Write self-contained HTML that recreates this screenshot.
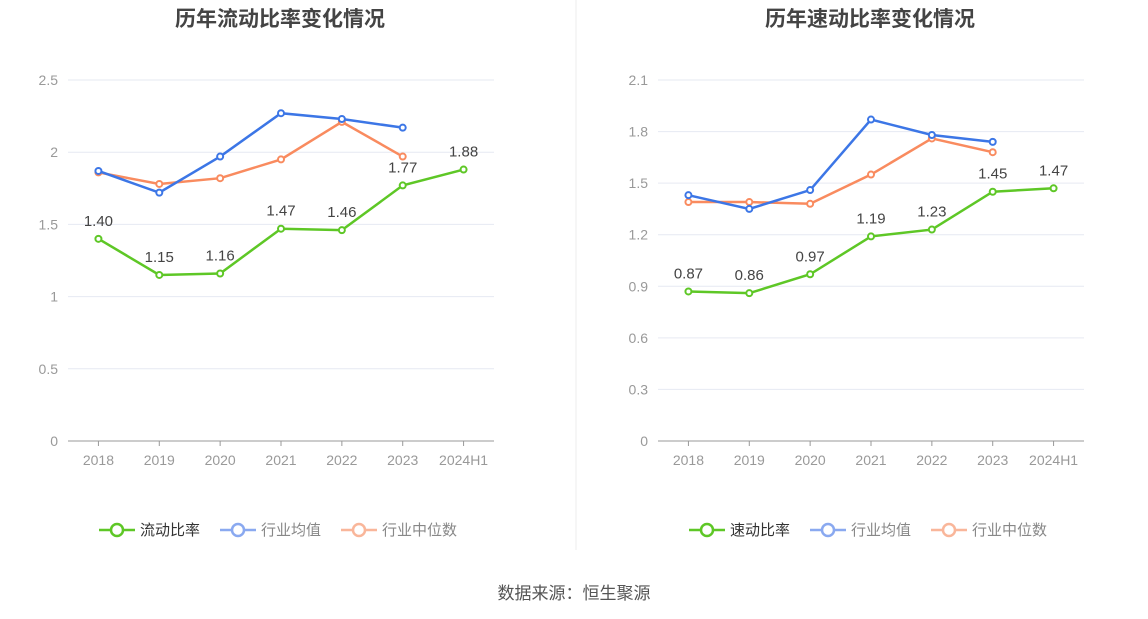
<!DOCTYPE html>
<html><head><meta charset="utf-8">
<style>
body{margin:0;background:#fff;width:1148px;height:619px;overflow:hidden;font-family:"Liberation Sans","Noto Sans CJK SC",sans-serif;}
svg{position:absolute;left:0;top:0}
</style></head>
<body>
<svg id="c" width="1148" height="619"></svg>
<script>
const years=["2018","2019","2020","2021","2022","2023","2024H1"];
const curRatio=[1.40,1.15,1.16,1.47,1.46,1.77,1.88];
const curAvg=[1.87,1.72,1.97,2.27,2.23,2.17];
const curMed=[1.86,1.78,1.82,1.95,2.21,1.97];
const curTicks=[0,0.5,1,1.5,2,2.5];
const curTickLabels=["0","0.5","1","1.5","2","2.5"];
const quickRatio=[0.87,0.86,0.97,1.19,1.23,1.45,1.47];
const quickAvg=[1.43,1.35,1.46,1.87,1.78,1.74];
const quickMed=[1.39,1.39,1.38,1.55,1.76,1.68];
const quickTicks=[0,0.3,0.6,0.9,1.2,1.5,1.8,2.1];
const quickTickLabels=["0","0.3","0.6","0.9","1.2","1.5","1.8","2.1"];

const NS="http://www.w3.org/2000/svg";
const svg=document.getElementById('c');
function mk(tag,attrs,text){const e=document.createElementNS(NS,tag);for(const k in attrs)e.setAttribute(k,attrs[k]);if(text!==undefined)e.textContent=text;svg.appendChild(e);return e;}

function chart(ox,title,main,avg,med,ticks,tickLabels,max,mainName,prefix){
  const x0=ox+68,x1=ox+494,yb=441,yt=80;
  const step=(x1-x0)/7;
  const X=i=>x0+step*(i+0.5);
  const Y=v=>yb-(v/max)*(yb-yt);
  let t=mk('text',{x:ox+280,y:26,'text-anchor':'middle','font-size':21,'font-weight':'bold',fill:'#444'},title);
  
  
  ticks.forEach((v,i)=>{
    if(v>0){const g=mk('line',{x1:x0,x2:x1,y1:Y(v),y2:Y(v),stroke:'#e6e9f2'});
    
    }
    const l=mk('text',{x:x0-10,y:Y(v)+5,'text-anchor':'end','font-size':14,fill:'#999'},tickLabels[i]);
    
    
  });
  const ax=mk('line',{x1:x0,x2:x1,y1:yb,y2:yb,stroke:'#999'});
  
  
  years.forEach((y,i)=>{
    const tk=mk('line',{x1:X(i),x2:X(i),y1:yb,y2:yb+5,stroke:'#999'});
    
    
    const l=mk('text',{x:X(i),y:yb+24,'text-anchor':'middle','font-size':14,fill:'#999'},y);
    
    
  });
  function series(data,color,name){
    const p=mk('polyline',{points:data.map((v,i)=>X(i)+','+Y(v)).join(' '),fill:'none',stroke:color,'stroke-width':2.5});
    
    
    data.forEach((v,i)=>{
      const c=mk('circle',{cx:X(i),cy:Y(v),r:3,fill:'#fff',stroke:color,'stroke-width':2});
      
      
    });
  }
  series(med,'#f98b5f','median');
  series(avg,'#3c76e6','average');
  series(main,'#5ec726','main');
  main.forEach((v,i)=>{
    const l=mk('text',{x:X(i),y:Y(v)-13,'text-anchor':'middle','font-size':15,fill:'#444'},v.toFixed(2));
    
    
  });
  const leg=[[mainName,'#5ec726',ox+99],['行业均值','#8aa9f0',ox+220],['行业中位数','#f9b69a',ox+341]];
  leg.forEach(([n,c,lx],k)=>{
    const ln=mk('line',{x1:lx,x2:lx+36,y1:530,y2:530,stroke:c,'stroke-width':2.5});
    
    
    const ci=mk('circle',{cx:lx+18,cy:530,r:6,fill:'#fff',stroke:c,'stroke-width':2.5});
    
    
    const tx=mk('text',{x:lx+41,y:535,'font-size':15,fill:k==0?'#333':'#888'},n);
    
    
  });
}
chart(0,'历年流动比率变化情况',curRatio,curAvg,curMed,curTicks,curTickLabels,2.5,'流动比率','current');
chart(590,'历年速动比率变化情况',quickRatio,quickAvg,quickMed,quickTicks,quickTickLabels,2.1,'速动比率','quick');
const d=mk('line',{x1:576,x2:576,y1:0,y2:550,stroke:'#eee'});


const s=mk('text',{x:574,y:599,'text-anchor':'middle','font-size':17,fill:'#555'},'数据来源：恒生聚源');


</script>
</body></html>
